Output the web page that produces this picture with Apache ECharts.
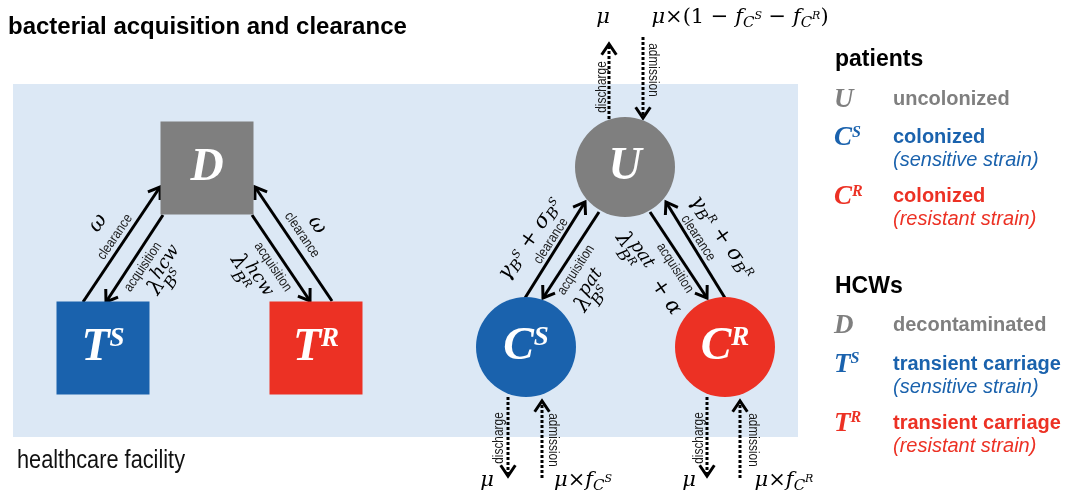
<!DOCTYPE html>
<html>
<head>
<meta charset="utf-8">
<title>bacterial acquisition and clearance</title>
<script src="https://cdn.jsdelivr.net/npm/echarts@6/dist/echarts.min.js"></script>
<style>
  html, body { margin: 0; padding: 0; background: #fff; }
  #main { width: 1084px; height: 490px; }
</style>
</head>
<body>
<div id="main"></div>
<script>
// compartments, in diagram units (y grows downward)
const nodeMain = ["D", "T", "T", "U", "C", "C"];
const nodeSup = ["", "S", "R", "", "S", "R"];
const nodeX = [207, 103, 316, 625, 526, 725];
const nodeY = [168, 348, 348, 167, 347, 347];
const nodeShape = ["rect", "rect", "rect", "circle", "circle", "circle"];
const nodeTone = ["gray", "blue", "red", "gray", "blue", "red"];

// healthcare facility zone: [x0, y0, x1, y1]
const facility = [[13, 84, 798, 437]];

// transitions: start, end, dotted (admission / discharge)
const flowStart = [[83, 302], [163, 215], [252, 215], [332, 301], [525, 298], [599, 212], [650, 212], [725, 298],
  [609, 119], [643, 37], [508, 397], [542, 478], [707, 397], [740, 478]];
const flowEnd = [[160, 187], [106, 302], [310, 301], [255, 187], [585, 202], [543, 298], [707, 298], [666, 202],
  [609, 44], [643, 118], [508, 476], [542, 401], [707, 476], [740, 401]];
const flowDotted = [0, 0, 0, 0, 0, 0, 0, 0, 1, 1, 1, 1, 1, 1];

// small arrow tags
const tagText = ["clearance", "acquisition", "acquisition", "clearance", "clearance", "acquisition", "acquisition", "clearance",
  "discharge", "admission", "discharge", "admission", "discharge", "admission"];
const tagX = [115, 143, 273, 302, 551, 576, 675, 698, 602, 653, 499, 553, 699, 753];
const tagY = [237, 267, 267, 235, 241, 270, 268, 238, 87, 70, 438, 440, 438, 440];
const tagRot = [56, 56, -56, -56, 57, 57, -57, -57, 90, -90, 90, -90, 90, -90];

// rates written on one line
const mathText = [
  "{i|ω}",
  "{i|ω}",
  "{i|γ}{b|B}{s|S}{r| + }{i|σ}{b|B}{s|S}",
  "{r|+ }{i|α}",
  "{i|γ}{b|B}{s|R}{r| + }{i|σ}{b|B}{s|R}",
  "{i|μ}",
  "{i|μ}{r|×(1 − }{i|f}{b|C}{s|S}{r| − }{i|f}{b|C}{s|R}{r|)}",
  "{i|μ}",
  "{i|μ}{r|×}{i|f}{b|C}{s|S}",
  "{i|μ}",
  "{i|μ}{r|×}{i|f}{b|C}{s|R}"
];
const mathX = [98, 317, 530, 666, 722, 603, 740, 487, 583, 689, 784];
const mathY = [223, 225, 239, 297, 237, 18, 18, 481, 481, 481, 481];
const mathRot = [56, -56, 55, -56, -55, 0, 0, 0, 0, 0, 0];

// acquisition rates: λ with stacked superscript and subscript B^strain
const stackSup = ["hcw", "hcw", "pat", "pat"];
const stackStrain = ["S", "R", "S", "R"];
const stackX = [157, 239, 584, 624];
const stackY = [287, 262, 304, 240];
const stackRot = [56, -56, 56, -56];

// key
const groupTitle = ["patients", "HCWs"];
const keyGroup = [0, 0, 0, 1, 1, 1];
const keyMain = ["U", "C", "C", "D", "T", "T"];
const keySup = ["", "S", "R", "", "S", "R"];
const keyLabel = ["uncolonized", "colonized", "colonized", "decontaminated", "transient carriage", "transient carriage"];
const keyNote = ["", "(sensitive strain)", "(resistant strain)", "", "(sensitive strain)", "(resistant strain)"];
const keyTone = ["gray", "blue", "red", "gray", "blue", "red"];

const chartTitle = "bacterial acquisition and clearance";
const zoneLabel = "healthcare facility";

const tone = { gray: "#7f7f7f", blue: "#1a62ad", red: "#ec3124" };
const serif = "'Liberation Serif', 'Times New Roman', serif";
const mathFont = "'DejaVu Serif', 'Liberation Serif', serif";
const sans = "'Liberation Sans', Arial, sans-serif";

function mstyle(size, italic, pad) {
  const s = { fontFamily: mathFont, fontStyle: italic ? "italic" : "normal", fontSize: size, fill: "#000", align: "left" };
  if (pad) s.padding = pad;
  return s;
}
const mathRich = {
  i: mstyle(21, true),
  r: mstyle(21, false),
  b: mstyle(15, true, [10, 0, 0, 0]),
  s: mstyle(11, true, [0, 0, 4, 0]),
  c: mstyle(16, true),
  t: mstyle(11, true, [0, 0, 9, 0])
};

// key rows laid out top to bottom
const keyRows = [];
(function () {
  let y = 60;
  groupTitle.forEach((g, gi) => {
    keyRows.push({ x: 835, y, text: g, style: { font: "bold 23px " + sans, fill: "#000" } });
    y += 39;
    keyMain.forEach((m, i) => {
      if (keyGroup[i] !== gi) return;
      const col = tone[keyTone[i]];
      keyRows.push({
        x: 834, y: y + 1, text: "{m|" + m + "}" + (keySup[i] ? "{s|" + keySup[i] + "}" : ""),
        style: {
          rich: {
            m: { fontFamily: serif, fontStyle: "italic", fontWeight: "bold", fontSize: 27, fill: col, align: "left" },
            s: { fontFamily: serif, fontStyle: "italic", fontWeight: "bold", fontSize: 16, fill: col, align: "left", padding: [0, 0, 12, 0] }
          }
        }
      });
      keyRows.push({ x: 893, y, text: keyLabel[i], style: { font: "bold 20px " + sans, fill: col } });
      if (keyNote[i]) keyRows.push({ x: 893, y: y + 23, text: keyNote[i], style: { font: "italic 20px " + sans, fill: col } });
      y += keyNote[i] ? 59 : 38.5;
    });
    y += 31;
  });
})();

const chart = echarts.init(document.getElementById("main"), null, { renderer: "canvas" });

function textEl(p, rot, text, style, scaleX) {
  return {
    type: "text", x: p[0], y: p[1], rotation: (rot || 0) * Math.PI / 180, scaleX: scaleX || 1,
    style: Object.assign({ text, align: "center", verticalAlign: "middle" }, style)
  };
}

chart.setOption({
  animation: false,
  grid: { left: 0, right: 0, top: 0, bottom: 0 },
  xAxis: { type: "value", min: 0, max: 1084, show: false },
  yAxis: { type: "value", min: 0, max: 490, inverse: true, show: false },
  series: [
    {
      type: "custom", name: "facility", silent: true, clip: false, z: 1,
      data: facility,
      renderItem: (params, api) => {
        const a = api.coord([api.value(0), api.value(1)]);
        const b = api.coord([api.value(2), api.value(3)]);
        return {
          type: "group", children: [
            { type: "rect", shape: { x: a[0], y: a[1], width: b[0] - a[0], height: b[1] - a[1] }, style: { fill: "#dce8f5" } },
            textEl(api.coord([101, 461]), 0, zoneLabel, { font: "25px " + sans, fill: "#111" }, 0.87)
          ]
        };
      }
    },
    {
      type: "custom", name: "flows", silent: true, clip: false, z: 2,
      data: flowStart.map((s, i) => [s[0], s[1], flowEnd[i][0], flowEnd[i][1], flowDotted[i]]),
      renderItem: (params, api) => {
        const a = api.coord([api.value(0), api.value(1)]);
        const b = api.coord([api.value(2), api.value(3)]);
        const dotted = api.value(4) === 1;
        const ang = Math.atan2(b[1] - a[1], b[0] - a[0]);
        const L = 13, w = 0.6;
        const p1 = [b[0] - L * Math.cos(ang - w), b[1] - L * Math.sin(ang - w)];
        const p2 = [b[0] - L * Math.cos(ang + w), b[1] - L * Math.sin(ang + w)];
        return {
          type: "group", children: [
            { type: "line", shape: { x1: a[0], y1: a[1], x2: b[0], y2: b[1] }, style: { stroke: "#000", lineWidth: 3, lineDash: dotted ? [3, 2] : null } },
            { type: "polyline", shape: { points: [p1, b, p2] }, style: { stroke: "#000", lineWidth: 3, fill: null } }
          ]
        };
      }
    },
    {
      type: "scatter", name: "compartments", silent: true, z: 3,
      data: nodeMain.map((m, i) => ({
        value: [nodeX[i], nodeY[i]],
        symbol: nodeShape[i],
        symbolSize: nodeShape[i] === "rect" ? 93 : 100,
        itemStyle: { color: tone[nodeTone[i]], opacity: 1 },
        label: { formatter: "{m|" + m + "}" + (nodeSup[i] ? "{s|" + nodeSup[i] + "}" : "") }
      })),
      label: {
        show: true, position: "inside",
        rich: {
          m: { color: "#fff", fontFamily: serif, fontStyle: "italic", fontWeight: "bold", fontSize: 46 },
          s: { color: "#fff", fontFamily: serif, fontStyle: "italic", fontWeight: "bold", fontSize: 27, padding: [0, 0, 17, 0] }
        }
      }
    },
    {
      type: "custom", name: "tags", silent: true, clip: false, z: 4,
      data: tagText.map((t, i) => [tagX[i], tagY[i], tagRot[i]]),
      renderItem: (params, api) =>
        textEl(api.coord([api.value(0), api.value(1)]), api.value(2), tagText[params.dataIndex],
          { font: "14px " + sans, fill: "#1a1a1a" }, 0.85)
    },
    {
      type: "custom", name: "rates", silent: true, clip: false, z: 4,
      data: mathText.map((t, i) => [mathX[i], mathY[i], mathRot[i]]),
      renderItem: (params, api) =>
        textEl(api.coord([api.value(0), api.value(1)]), api.value(2), mathText[params.dataIndex], { rich: mathRich })
    },
    {
      type: "custom", name: "acquisition rates", silent: true, clip: false, z: 4,
      data: stackSup.map((t, i) => [stackX[i], stackY[i], stackRot[i]]),
      renderItem: (params, api) => {
        const i = params.dataIndex;
        const p = api.coord([api.value(0), api.value(1)]);
        return {
          type: "group", x: p[0], y: p[1], rotation: api.value(2) * Math.PI / 180,
          children: [
            textEl([0, 0], 0, "λ", { font: "italic 22px " + mathFont, fill: "#000" }),
            { type: "text", x: 7, y: -7, style: { text: stackSup[i], font: "italic 18px " + mathFont, fill: "#000", align: "left", verticalAlign: "middle" } },
            { type: "text", x: 6, y: 10, style: { text: "{c|B}{t|" + stackStrain[i] + "}", rich: mathRich, align: "left", verticalAlign: "middle" } }
          ]
        };
      }
    },
    {
      type: "custom", name: "key", silent: true, clip: false, z: 4,
      data: keyRows.map((r, i) => [r.x, r.y, i]),
      renderItem: (params, api) => {
        const r = keyRows[params.dataIndex];
        const el = textEl(api.coord([api.value(0), api.value(1)]), 0, r.text, r.style);
        el.style.align = "left";
        return el;
      }
    },
    {
      type: "custom", name: "title", silent: true, clip: false, z: 4,
      data: [[8, 27]],
      renderItem: (params, api) => {
        const el = textEl(api.coord([api.value(0), api.value(1)]), 0, chartTitle, { font: "bold 24px " + sans, fill: "#000" });
        el.style.align = "left";
        return el;
      }
    }
  ]
});
</script>
</body>
</html>
